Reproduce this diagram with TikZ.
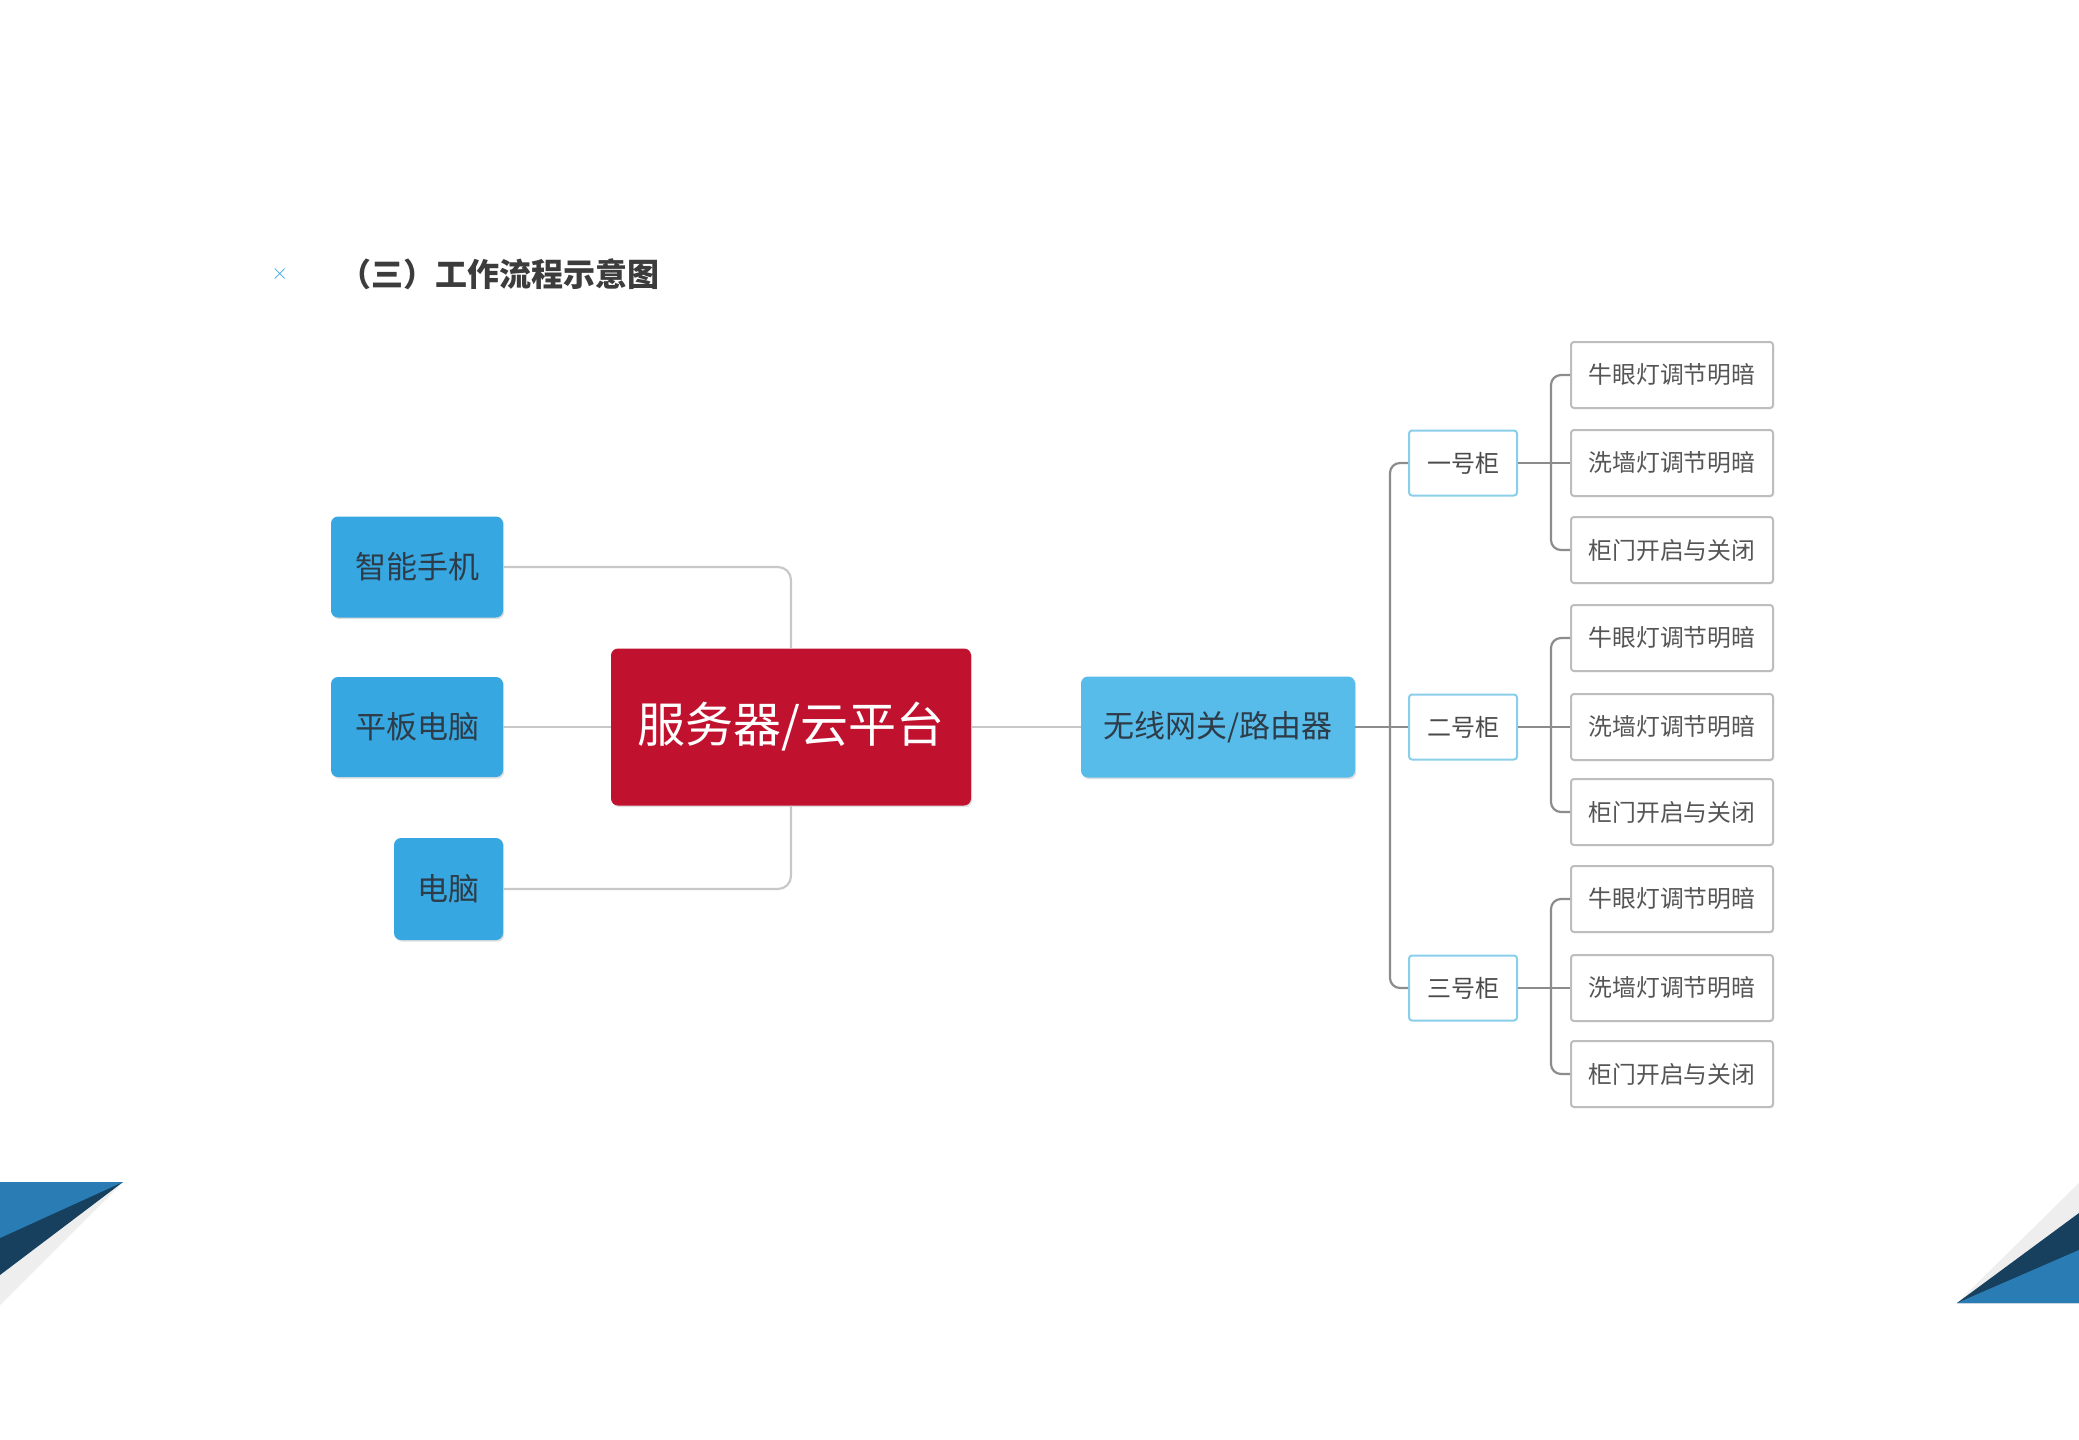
\documentclass[tikz,border=0pt]{standalone}
\usepackage{fontspec}
\setmainfont{Noto Sans CJK SC}
\usetikzlibrary{shadows}
\definecolor{devblue}{HTML}{36A7E0}
\definecolor{gwblue}{HTML}{58BCEA}
\definecolor{srvred}{HTML}{C0122E}
\definecolor{cabline}{HTML}{8ACFEA}
\definecolor{leafline}{HTML}{BDBDBD}
\definecolor{connlight}{HTML}{C8C8C8}
\definecolor{conndark}{HTML}{8C8C8C}
\definecolor{txtdark}{HTML}{2E3B48}
\definecolor{txtgray}{HTML}{4A4A4A}
\definecolor{leaftxt}{HTML}{555555}
\definecolor{decoblue}{HTML}{2A7CB4}
\definecolor{deconavy}{HTML}{17405E}
\definecolor{decogray}{HTML}{EEEEEE}
\definecolor{titlegray}{HTML}{3C3C3C}
\tikzset{
  devbox/.style={fill=devblue, rounded corners=3.5pt, inner sep=0pt, text=txtdark,
    font=\fontsize{15.5pt}{18pt}\selectfont,
    drop shadow={opacity=0.25, shadow xshift=0.6pt, shadow yshift=-0.8pt}},
  srvbox/.style={fill=srvred, rounded corners=3.5pt, inner sep=0pt, text=white,
    minimum width=180pt, minimum height=78.5pt,
    font=\fontsize{24pt}{28pt}\selectfont,
    drop shadow={opacity=0.25, shadow xshift=0.6pt, shadow yshift=-0.8pt}},
  gwbox/.style={fill=gwblue, rounded corners=3.5pt, inner sep=0pt, text=txtdark,
    minimum width=137pt, minimum height=50.5pt,
    font=\fontsize{15.5pt}{18pt}\selectfont,
    drop shadow={opacity=0.25, shadow xshift=0.6pt, shadow yshift=-0.8pt}},
  cabbox/.style={fill=white, draw=cabline, line width=1pt, rounded corners=1.5pt,
    inner sep=0pt, text=txtgray, minimum width=54pt, minimum height=32.5pt,
    font=\fontsize{12pt}{14pt}\selectfont},
  leafbox/.style={fill=white, draw=leafline, line width=1pt, rounded corners=1.5pt,
    inner sep=0pt, text=leaftxt, minimum width=101pt, minimum height=33pt,
    font=\fontsize{11.9pt}{14pt}\selectfont,
    drop shadow={opacity=0.15, shadow xshift=0.5pt, shadow yshift=-0.6pt}},
  lconn/.style={draw=connlight, line width=1.1pt, rounded corners=6.5pt},
  rconn/.style={draw=conndark, line width=1.1pt, rounded corners=5pt}
}
\begin{document}
\begin{tikzpicture}[x=0.5pt,y=-0.5pt]
\useasboundingbox (0,0) rectangle (2079,1440);
\fill[white] (0,0) rectangle (2079,1440);

% corner decorations
\fill[decogray] (0,1182) -- (123,1182) -- (0,1305) -- cycle;
\fill[deconavy] (0,1182) -- (123,1182) -- (0,1275) -- cycle;
\fill[decoblue] (0,1182) -- (123,1182) -- (0,1238) -- cycle;
\fill[decogray] (1957,1303) -- (2079,1183) -- (2079,1303) -- cycle;
\fill[deconavy] (1957,1303) -- (2079,1213) -- (2079,1303) -- cycle;
\fill[decoblue] (1957,1303) -- (2079,1250) -- (2079,1303) -- cycle;

% title
\node[text=devblue, font=\fontsize{11pt}{12pt}\selectfont, inner sep=0pt] (mark) at (280,274) {$\times$};
\node[text=titlegray, anchor=east, inner sep=0pt,
  font=\fontsize{16pt}{18pt}\selectfont\bfseries] (title) at (660,274) {（三）工作流程示意图};

% left devices
\node[devbox, minimum width=86pt, minimum height=50.5pt] (phone) at (417,567) {智能手机};
\node[devbox, minimum width=86pt, minimum height=50pt] (tablet) at (417,727) {平板电脑};
\node[devbox, minimum width=54.5pt, minimum height=51pt] (pc) at (448.5,889) {电脑};

\node[srvbox] (server) at (791,727) {服务器/云平台};
\node[gwbox] (router) at (1218,727) {无线网关/路由器};

\draw[lconn] (phone.east) -| (server.north);
\draw[lconn] (pc.east) -| (server.south);
\draw[lconn] (tablet.east) -- (server.west);
\draw[lconn] (server.east) -- (router.west);

% cabinets
\node[cabbox] (cab1) at (1463,463) {一号柜};
\node[cabbox] (cab2) at (1463,727) {二号柜};
\node[cabbox] (cab3) at (1463,988) {三号柜};

\coordinate (tr) at (1390,727);
\draw[rconn] (router.east) -- (cab2.west);
\draw[rconn] (cab1.west) -| (tr) |- (cab3.west);

% leaves
\node[leafbox] (l11) at (1672,375) {牛眼灯调节明暗};
\node[leafbox] (l12) at (1672,463) {洗墙灯调节明暗};
\node[leafbox] (l13) at (1672,550) {柜门开启与关闭};
\node[leafbox] (l21) at (1672,638) {牛眼灯调节明暗};
\node[leafbox] (l22) at (1672,727) {洗墙灯调节明暗};
\node[leafbox] (l23) at (1672,812) {柜门开启与关闭};
\node[leafbox] (l31) at (1672,899) {牛眼灯调节明暗};
\node[leafbox] (l32) at (1672,988) {洗墙灯调节明暗};
\node[leafbox] (l33) at (1672,1074) {柜门开启与关闭};

\coordinate (lt1) at (1551,463);
\coordinate (lt2) at (1551,727);
\coordinate (lt3) at (1551,988);
\draw[rconn] (cab1.east) -- (l12.west);
\draw[rconn] (l11.west) -| (lt1) |- (l13.west);
\draw[rconn] (cab2.east) -- (l22.west);
\draw[rconn] (l21.west) -| (lt2) |- (l23.west);
\draw[rconn] (cab3.east) -- (l32.west);
\draw[rconn] (l31.west) -| (lt3) |- (l33.west);
\end{tikzpicture}
\end{document}
